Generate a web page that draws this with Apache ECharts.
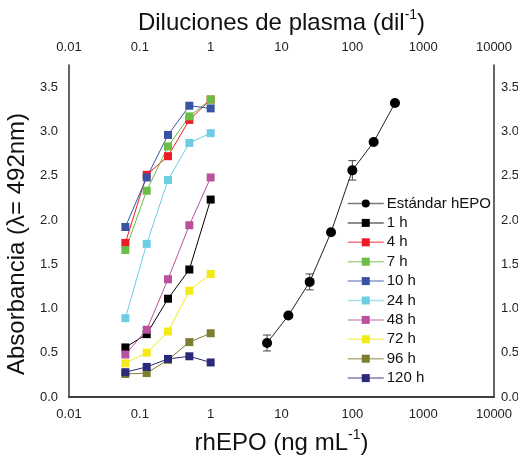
<!DOCTYPE html>
<html>
<head>
<meta charset="utf-8">
<script src="https://cdn.jsdelivr.net/npm/echarts@6/dist/echarts.min.js"></script>
<style>html,body{margin:0;padding:0;background:#fff}#c{width:518px;height:459px}</style>
</head>
<body>
<div id="c"></div>
<script>
// ---- data ----
const sampleX = [0.0625, 0.125, 0.25, 0.5, 1];
const standardX = [6.25, 12.5, 25, 50, 100, 200, 400];
const standardY = [0.61, 0.92, 1.30, 1.86, 2.56, 2.88, 3.32];
const standardErr = [0.09, 0, 0.09, 0, 0.11, 0, 0];
const s1h   = [0.56, 0.71, 1.11, 1.44, 2.23];
const s4h   = [1.74, 2.51, 2.72, 3.13, 3.36];
const s7h   = [1.66, 2.33, 2.83, 3.17, 3.36];
const s10h  = [1.92, 2.48, 2.96, 3.29, 3.26];
const s24h  = [0.89, 1.73, 2.45, 2.87, 2.98];
const s48h  = [0.48, 0.76, 1.33, 1.94, 2.48];
const s72h  = [0.38, 0.50, 0.74, 1.20, 1.39];
const s96h  = [0.26, 0.27, 0.42, 0.62, 0.72];
const s120h = [0.28, 0.34, 0.43, 0.46, 0.39];
const sampleNames = ['1 h', '4 h', '7 h', '10 h', '24 h', '48 h', '72 h', '96 h', '120 h'];
const sampleValues = [s1h, s4h, s7h, s10h, s24h, s48h, s72h, s96h, s120h];
const sampleColors = ['#000000', '#ed1c24', '#6abd45', '#3953a4', '#6dcde3', '#b9519f', '#f4ea17', '#7e7e31', '#2b2a78'];
const xTickLabels = ['0.01', '0.1', '1', '10', '100', '1000', '10000'];
const yTickLabels = ['0.0', '0.5', '1.0', '1.5', '2.0', '2.5', '3.0', '3.5'];

const zip = (xs, ys) => xs.map((x, i) => [x, ys[i]]);
const xFmt = v => { const i = Math.round(Math.log10(v)) + 2; return xTickLabels[i] !== undefined ? xTickLabels[i] : ''; };
const yFmt = v => { const i = Math.round(v * 2); return Math.abs(v * 2 - i) < 1e-6 && yTickLabels[i] !== undefined ? yTickLabels[i] : ''; };

const axisLineStyle = { show: true, lineStyle: { color: '#333', width: 1.5 } };
const tickFont = { fontFamily: 'Liberation Sans, Arial, sans-serif', fontSize: 13, color: '#222' };
const titleFont = { fontFamily: 'Liberation Sans, Arial, sans-serif', color: '#111' };

const chart = echarts.init(document.getElementById('c'), null, { renderer: 'canvas' });

const series = [];
series.push({
  name: 'Estándar hEPO', type: 'line', xAxisIndex: 0, yAxisIndex: 0,
  data: zip(standardX, standardY), symbol: 'circle', symbolSize: 10,
  itemStyle: { color: '#000' }, lineStyle: { color: '#222', width: 1 }, z: 5
});
series.push({
  name: 'err', type: 'custom', xAxisIndex: 0, yAxisIndex: 0, z: 4,
  data: standardX.map((x, i) => [x, standardY[i], standardErr[i]]).filter(d => d[2] > 0),
  renderItem: (params, api) => {
    const x = api.value(0), y = api.value(1), e = api.value(2);
    const p1 = api.coord([x, y + e]), p2 = api.coord([x, y - e]);
    const w = 4;
    const st = { stroke: '#444', lineWidth: 1 };
    return { type: 'group', children: [
      { type: 'line', shape: { x1: p1[0], y1: p1[1], x2: p2[0], y2: p2[1] }, style: st },
      { type: 'line', shape: { x1: p1[0] - w, y1: p1[1], x2: p1[0] + w, y2: p1[1] }, style: st },
      { type: 'line', shape: { x1: p2[0] - w, y1: p2[1], x2: p2[0] + w, y2: p2[1] }, style: st }
    ]};
  }
});
sampleNames.forEach((n, k) => {
  series.push({
    name: n, type: 'line', xAxisIndex: 0, yAxisIndex: 0,
    data: zip(sampleX, sampleValues[k]), symbol: 'rect', symbolSize: 8,
    itemStyle: { color: sampleColors[k] }, lineStyle: { color: sampleColors[k], width: 1 }, z: 3
  });
});

chart.setOption({
  animation: false,
  backgroundColor: '#fff',
  grid: { left: 69, right: 24, top: 65, bottom: 62, containLabel: false, outerBoundsMode: 'none' },
  legend: {
    data: ['Estándar hEPO'].concat(sampleNames),
    orient: 'vertical', left: 347, top: 196, padding: 0,
    itemWidth: 36, itemHeight: 10, itemGap: 4.4,
    lineStyle: { opacity: 0.6, width: 1.5 },
    textStyle: { fontFamily: 'Liberation Sans, Arial, sans-serif', fontSize: 15, color: '#111', padding: [0, 0, 0, -2] }
  },
  xAxis: [
    { type: 'log', logBase: 10, min: 0.01, max: 10000, position: 'bottom',
      axisLine: axisLineStyle, axisTick: { show: false }, splitLine: { show: false },
      axisLabel: Object.assign({ formatter: xFmt, margin: 11, showMinLabel: true, showMaxLabel: true }, tickFont),
      name: '{a|rhEPO (ng mL}{s|-1}{a|)}', nameLocation: 'middle', nameGap: 31,
      nameTextStyle: { rich: { a: Object.assign({ fontSize: 24, lineHeight: 27, verticalAlign: 'bottom' }, titleFont), s: Object.assign({ fontSize: 14, verticalAlign: 'top', lineHeight: 27 }, titleFont) } }
    },
    { type: 'log', logBase: 10, min: 0.01, max: 10000, position: 'top',
      axisLine: axisLineStyle, axisTick: { show: false }, splitLine: { show: false },
      axisLabel: Object.assign({ formatter: xFmt, margin: 11 }, tickFont),
      name: '{a|Diluciones de plasma (dil}{s|-1}{a|)}', nameLocation: 'middle', nameGap: 30,
      nameTextStyle: { rich: { a: Object.assign({ fontSize: 24, lineHeight: 27, verticalAlign: 'bottom' }, titleFont), s: Object.assign({ fontSize: 14, verticalAlign: 'top', lineHeight: 27 }, titleFont) } }
    }
  ],
  yAxis: [
    { type: 'value', min: 0, max: 3.75, interval: 0.5, position: 'left',
      axisLine: axisLineStyle, axisTick: { show: false }, splitLine: { show: false },
      axisLabel: Object.assign({ formatter: yFmt, margin: 11 }, tickFont),
      name: 'Absorbancia (λ= 492nm)', nameLocation: 'middle', nameGap: 32,
      nameTextStyle: Object.assign({ fontSize: 24, padding: [0, 26, 0, 0] }, titleFont)
    },
    { type: 'value', min: 0, max: 3.75, interval: 0.5, position: 'right',
      axisLine: axisLineStyle, axisTick: { show: false }, splitLine: { show: false },
      axisLabel: Object.assign({ formatter: yFmt, margin: 7 }, tickFont)
    }
  ],
  series: series
});
</script>
</body>
</html>
